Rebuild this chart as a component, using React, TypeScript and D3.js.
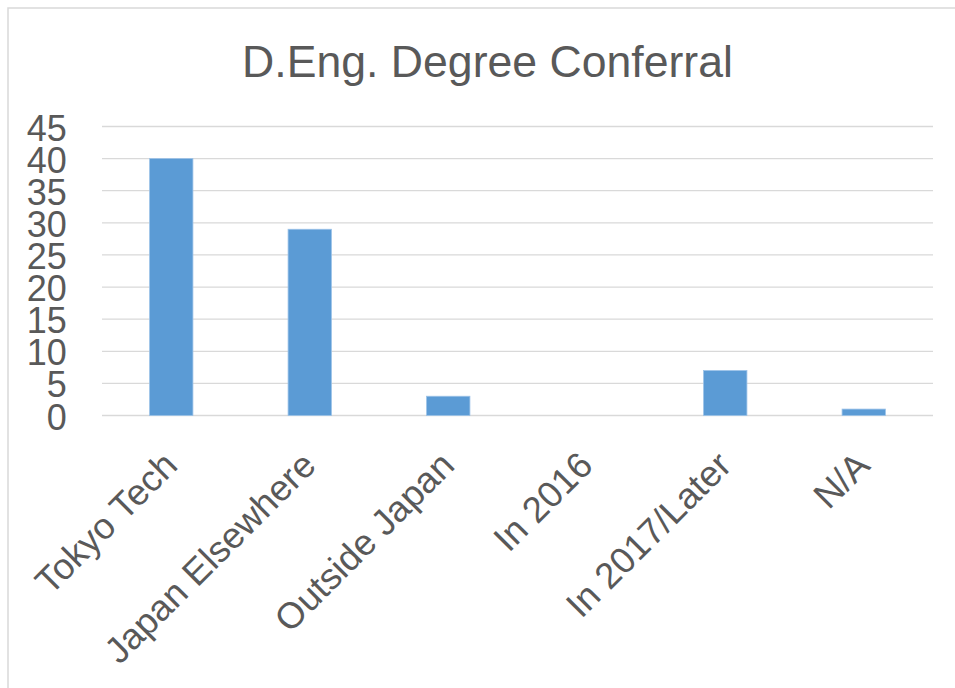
import React from "react";
import * as d3 from "d3";

const categories = ["Tokyo Tech", "Japan Elsewhere", "Outside Japan", "In 2016", "In 2017/Later", "N/A"];
const values = [40, 29, 3, 0, 7, 1];
const yTicks = [0, 5, 10, 15, 20, 25, 30, 35, 40, 45];
const title = "D.Eng. Degree Conferral";

const W = 955;
const H = 688;
const plotLeft = 102;
const plotRight = 933;
const plotTop = 126.5;
const plotBottom = 415.5;
const font = "'Liberation Sans', Arial, Helvetica, sans-serif";
const textColor = "#595959";
const gridColor = "#D9D9D9";
const barColor = "#5B9BD5";

export default function App() {
  const x = d3
    .scaleBand<string>()
    .domain(categories)
    .range([plotLeft, plotRight])
    .paddingInner(0.687)
    .paddingOuter(0.687 / 2);
  const y = d3.scaleLinear().domain([0, 45]).range([plotBottom, plotTop]);

  return (
    <svg
      width={W}
      height={H}
      style={{ position: "absolute", left: 0, top: 0, display: "block", background: "#fff" }}
    >
      <rect x={8} y={8} width={1200} height={1000} fill="#fff" stroke={gridColor} strokeWidth={1.5} />
      <text
        x={487.5}
        y={77}
        textAnchor="middle"
        fontFamily={font}
        fontSize={44.6}
        fill={textColor}
      >
        {title}
      </text>
      {yTicks.map((t) => (
        <line
          key={"g" + t}
          x1={plotLeft}
          x2={plotRight}
          y1={y(t)}
          y2={y(t)}
          stroke={gridColor}
          strokeWidth={1.3}
        />
      ))}
      {yTicks.map((t) => (
        <text
          key={"t" + t}
          x={66.7}
          y={y(t) + 14}
          textAnchor="end"
          fontFamily={font}
          fontSize={36}
          fill={textColor}
        >
          {t}
        </text>
      ))}
      {categories.map((c, i) => {
        const v = values[i];
        if (v <= 0) return null;
        return (
          <rect
            key={"b" + c}
            x={x(c)!}
            y={y(v)}
            width={x.bandwidth()}
            height={y(0) - y(v)}
            fill={barColor}
            stroke="#9cc2e8"
            strokeWidth={0.8}
          />
        );
      })}
      {categories.map((c) => {
        const cx = x(c)! + x.bandwidth() / 2 + 8;
        const cy = plotBottom + 52;
        return (
          <text
            key={"l" + c}
            transform={`translate(${cx},${cy}) rotate(-45)`}
            textAnchor="end"
            fontFamily={font}
            fontSize={36.5}
            fill={textColor}
          >
            {c}
          </text>
        );
      })}
    </svg>
  );
}
